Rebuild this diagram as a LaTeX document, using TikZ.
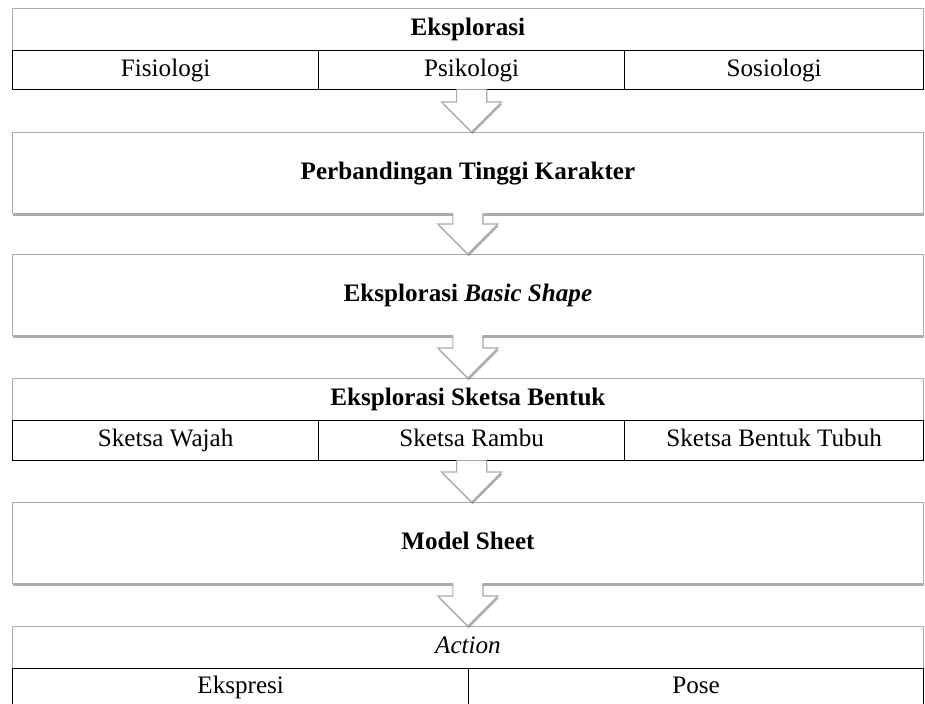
\documentclass[tikz,border=0pt]{standalone}
\usepackage{fontspec}
\setmainfont{Liberation Serif}
\usetikzlibrary{calc,shadows}

\newcommand{\ukuran}{\fontsize{14.3}{17}\selectfont}

\tikzset{
  bayang/.style={drop shadow={shadow xshift=0.4pt, shadow yshift=-1.2pt, fill=black!55, opacity=0.6}},
  teks/.style={text height=10pt, text depth=3pt},
  kepala/.style={draw=gray!65, line width=0.6pt, fill=white, bayang, inner sep=0pt, teks,
    anchor=north west, minimum width=18.22cm, minimum height=0.84cm, font=\ukuran\bfseries},
  sel/.style={draw=black, line width=0.8pt, fill=white, inner sep=0pt, teks, anchor=north west,
    font=\ukuran},
  kotak/.style={draw=gray!65, line width=0.6pt, fill=white, bayang, inner sep=0pt, teks,
    anchor=north west, minimum width=18.22cm, minimum height=1.62cm, font=\ukuran\bfseries},
}

% panah blok dari kotak #1 ke kotak #2
\newcommand{\panahblok}[2]{%
  \path[fill=white, bayang] ($(#1.south)+(-15,-1)$) -- ($(#1.south |- #2.north)+(-15,-30)$)
    -- ($(#1.south |- #2.north)+(-30,-30)$) -- (#1.south |- #2.north)
    -- ($(#1.south |- #2.north)+(30,-30)$) -- ($(#1.south |- #2.north)+(15,-30)$)
    -- ($(#1.south)+(15,-1)$) -- cycle;
  \draw[gray!65, line width=0.6pt, line join=miter] ($(#1.south)+(-15,-1)$) -- ($(#1.south |- #2.north)+(-15,-30)$)
    -- ($(#1.south |- #2.north)+(-30,-30)$) -- (#1.south |- #2.north)
    -- ($(#1.south |- #2.north)+(30,-30)$) -- ($(#1.south |- #2.north)+(15,-30)$)
    -- ($(#1.south)+(15,-1)$);
}

\begin{document}
\begin{tikzpicture}[x=0.02cm, y=-0.02cm, font=\ukuran]
  \useasboundingbox (0,0) rectangle (925,703);
  \clip (0,0) rectangle (925,703);

  % Eksplorasi
  \node[kepala] (eksplorasi) at (12,8) {Eksplorasi};
  \foreach \nama/\x/\w/\isi in {fisiologi/12/6.12cm/Fisiologi,
      psikologi/318/6.12cm/Psikologi, sosiologi/624/5.98cm/Sosiologi}{
    \node[sel, minimum width=\w, minimum height=0.78cm] (\nama) at (\x,50) {\isi};
  }

  % Perbandingan tinggi
  \node[kotak] (tinggi) at (12,132) {Perbandingan Tinggi Karakter};

  % Basic shape
  \node[kotak] (basic) at (12,254) {Eksplorasi \textit{Basic Shape}};

  % Sketsa bentuk
  \node[kepala] (sketsa) at (12,378) {Eksplorasi Sketsa Bentuk};
  \foreach \nama/\x/\w/\isi in {wajah/12/6.12cm/Sketsa Wajah,
      rambu/318/6.12cm/Sketsa Rambu, tubuh/624/5.98cm/Sketsa Bentuk Tubuh}{
    \node[sel, minimum width=\w, minimum height=0.8cm] (\nama) at (\x,420) {\isi};
  }

  % Model sheet
  \node[kotak] (model) at (12,502) {Model Sheet};

  % Action
  \node[kepala, font=\ukuran\itshape] (action) at (12,626) {Action};
  \foreach \nama/\x/\w/\isi in {ekspresi/12/9.12cm/Ekspresi, pose/468/9.1cm/Pose}{
    \node[sel, minimum width=\w, minimum height=0.76cm] (\nama) at (\x,668) {\isi};
  }

  % Panah
  \panahblok{psikologi}{tinggi}
  \panahblok{tinggi}{basic}
  \panahblok{basic}{sketsa}
  \panahblok{rambu}{model}
  \panahblok{model}{action}
\end{tikzpicture}
\end{document}
